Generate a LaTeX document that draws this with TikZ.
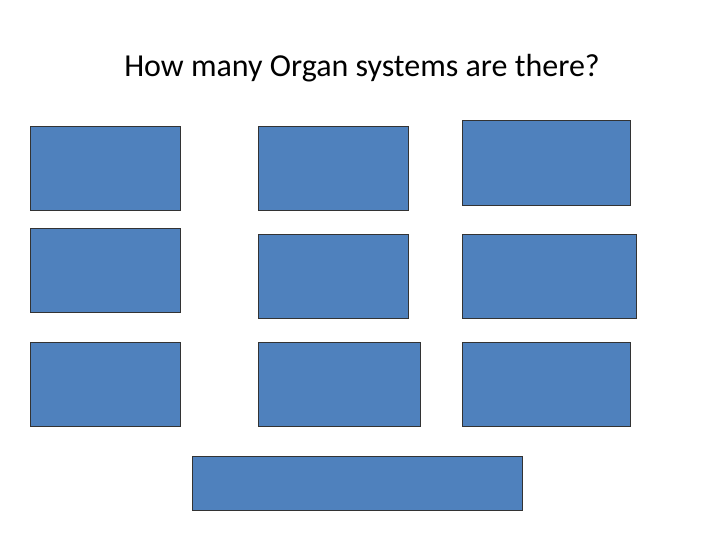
\documentclass[tikz,border=0pt]{standalone}
\usepackage{fontspec}
\setmainfont{Carlito}
\definecolor{organBlue}{HTML}{4F81BD}
\begin{document}
\begin{tikzpicture}[x=1pt, y=-1pt,
    organbox/.style={rectangle, draw=black!80, fill=organBlue, line width=0.8pt, anchor=north west, inner sep=0pt}
  ]
    \useasboundingbox (0,0) rectangle (720,540);

    % Title
    \node[font=\fontsize{32}{38}\selectfont] (title) at (362,68) {How many Organ systems are there?};

    % Boxes (left, top, width, height)
    \foreach \name/\x/\y/\w/\h in {B1/30/126/150/84, B2/258/126/150/84, B3/462/120/168/85,
        B4/30/228/150/84, B5/258/234/150/84, B6/462/234/174/84,
        B7/30/342/150/84, B8/258/342/162/84, B9/462/342/168/84,
        B10/192/456/330/54}
      \node[organbox, minimum width=\w pt, minimum height=\h pt] (\name) at (\x,\y) {};

\end{tikzpicture}
\end{document}
